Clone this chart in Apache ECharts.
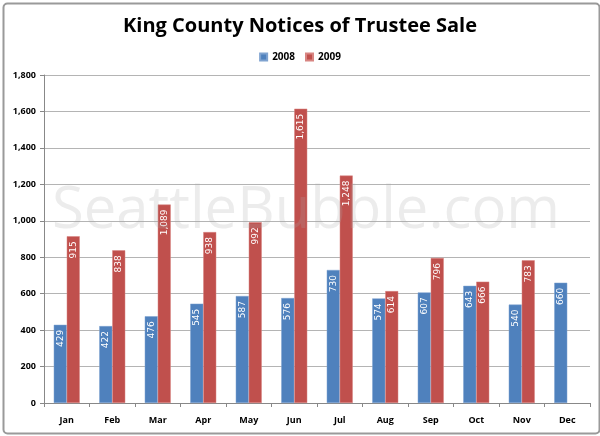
<!DOCTYPE html>
<html><head><meta charset="utf-8">
<script src="https://cdn.jsdelivr.net/npm/echarts@6/dist/echarts.min.js"></script>
<style>html,body{margin:0;padding:0;background:#fff}#c{width:600px;height:436px}</style>
</head><body><div id="c"></div>
<script>
const months = ['Jan','Feb','Mar','Apr','May','Jun','Jul','Aug','Sep','Oct','Nov','Dec'];
const y2008 = [429,422,476,545,587,576,730,574,607,643,540,660];
const y2009 = [915,838,1089,938,992,1615,1248,614,796,666,783,null];
const seriesNames = ['2008','2009'];

const chart = echarts.init(document.getElementById('c'), null, {renderer:'canvas'});
const lbl = {
  show:true, position:'insideTop', rotate:90, align:'right', verticalAlign:'middle',
  distance:5, color:'#fff', fontSize:9, fontFamily:'DejaVu Sans', fontWeight:'normal',
  formatter: p => p.value==null ? '' : p.value.toLocaleString('en-US')
};
chart.setOption({
  animation:false,
  backgroundColor:'#fff',
  title:{text:'King County Notices of Trustee Sale', left:'center', top:11,
    textStyle:{fontFamily:'Open Sans', fontWeight:'bold', fontSize:20, color:'#000'}},
  legend:{top:47, left:'center', itemWidth:7, itemHeight:7, itemGap:10,
    icon:'rect', textStyle:{fontFamily:'Open Sans', fontWeight:'bold', fontSize:10, color:'#000'}},
  grid:{left:44, right:10, top:75, bottom:33, containLabel:false},
  xAxis:{type:'category', data:months,
    axisLine:{lineStyle:{color:'#888'}},
    axisTick:{show:true, alignWithLabel:false, length:4, lineStyle:{color:'#888'}},
    axisLabel:{fontFamily:'Open Sans', fontWeight:'bold', fontSize:9, color:'#000', margin:13}},
  yAxis:{type:'value', min:0, max:1800, interval:200,
    axisLine:{show:true, lineStyle:{color:'#888'}},
    axisTick:{show:true, length:4, lineStyle:{color:'#888'}},
    splitLine:{lineStyle:{color:'#b4b4b4'}},
    axisLabel:{fontFamily:'Open Sans', fontWeight:'bold', fontSize:9, color:'#000', margin:8,
      formatter: v => v.toLocaleString('en-US')}},
  series:[
    {name:seriesNames[0], type:'bar', data:y2008, barWidth:13, barGap:'0%',
      itemStyle:{color:'#4F81BD', borderColor:'#7FA3D0', borderWidth:0.5}, label:lbl},
    {name:seriesNames[1], type:'bar', data:y2009, barWidth:13,
      itemStyle:{color:'#C0504D', borderColor:'#D88582', borderWidth:0.5}, label:lbl}
  ],
  graphic:[
    {type:'text', left:52, top:182, z:100, silent:true,
      style:{text:'SeattleBubble.com', font:'normal 58px "Open Sans"', fill:'rgba(170,170,170,0.22)'}},
    {type:'rect', left:1, top:1, z:-1, silent:true,
      shape:{width:596, height:430, r:4}, style:{fill:'none', stroke:'#9a9a9a', lineWidth:2}}
  ]
});
</script></body></html>
